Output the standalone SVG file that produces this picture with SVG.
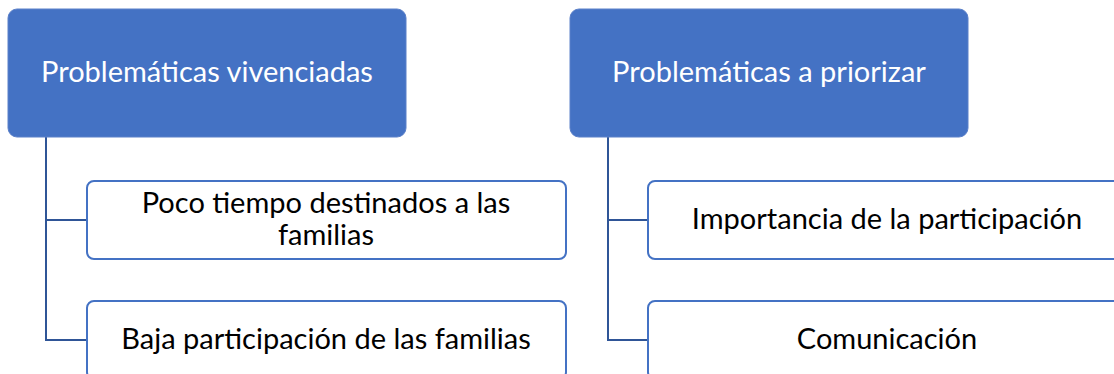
<svg xmlns="http://www.w3.org/2000/svg" width="1114" height="374" viewBox="0 0 1114 374">
<style>
.hdr rect{fill:#4472C4;stroke:#5B80C9;stroke-width:1}
.hdr text{fill:#fff;font-family:Lato,"Open Sans",sans-serif;font-size:29px;text-anchor:middle}
.child rect{fill:#fff;stroke:#4472C4;stroke-width:2}
.child text{fill:#000;font-family:Lato,"Open Sans",sans-serif;font-size:29px;text-anchor:middle}
.conn path{fill:none;stroke:#2F5597;stroke-width:2}
</style>
<rect width="1114" height="374" fill="#fff"/>
<g class="conn" id="connectors">
<path d="M46 137 V340 H86 M46 220 H86"/>
<path d="M608 137 V340 H648 M608 220 H648"/>
</g>
<g class="hdr" id="h1"><rect x="8" y="9" width="398" height="128" rx="9"/><text x="207" y="82">Problemáticas vivenciadas</text></g>
<g class="hdr" id="h2"><rect x="570" y="9" width="398" height="128" rx="9"/><text x="769" y="82">Problemáticas a priorizar</text></g>
<g class="child" id="c1"><rect x="87" y="181" width="479" height="78" rx="7"/><text x="326" y="213">Poco tiempo destinados a las</text><text x="326" y="245">familias</text></g>
<g class="child" id="c2"><rect x="87" y="301" width="479" height="78" rx="7"/><text x="326" y="349">Baja participación de las familias</text></g>
<g class="child" id="c3"><rect x="648" y="181" width="479" height="78" rx="7"/><text x="887" y="229">Importancia de la participación</text></g>
<g class="child" id="c4"><rect x="648" y="301" width="479" height="78" rx="7"/><text x="887" y="349">Comunicación</text></g>
</svg>
